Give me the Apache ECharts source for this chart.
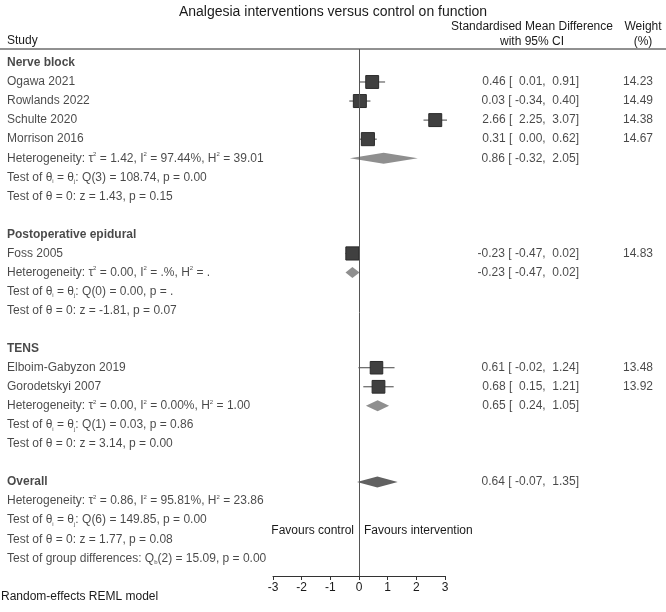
<!DOCTYPE html>
<html><head><meta charset="utf-8">
<script src="https://cdn.jsdelivr.net/npm/echarts@6/dist/echarts.min.js"></script>
<style>html,body{margin:0;padding:0;background:#fff}#c{width:666px;height:612px}</style>
</head><body><div id="c"></div>
<script>
// ---- data ----
const titleText = "Analgesia interventions versus control on function";
const rowLabels = [
  "Nerve block","Ogawa 2021","Rowlands 2022","Schulte 2020","Morrison 2016",
  "Heterogeneity: τ^2 = 1.42, I^2 = 97.44%, H^2 = 39.01",
  "Test of θ_i = θ_j: Q(3) = 108.74, p = 0.00",
  "Test of θ = 0: z = 1.43, p = 0.15",
  "",
  "Postoperative epidural","Foss 2005",
  "Heterogeneity: τ^2 = 0.00, I^2 = .%, H^2 = .",
  "Test of θ_i = θ_j: Q(0) = 0.00, p = .",
  "Test of θ = 0: z = -1.81, p = 0.07",
  "",
  "TENS","Elboim-Gabyzon 2019","Gorodetskyi 2007",
  "Heterogeneity: τ^2 = 0.00, I^2 = 0.00%, H^2 = 1.00",
  "Test of θ_i = θ_j: Q(1) = 0.03, p = 0.86",
  "Test of θ = 0: z = 3.14, p = 0.00",
  "",
  "Overall",
  "Heterogeneity: τ^2 = 0.86, I^2 = 95.81%, H^2 = 23.86",
  "Test of θ_i = θ_j: Q(6) = 149.85, p = 0.00",
  "Test of θ = 0: z = 1.77, p = 0.08",
  "Test of group differences: Q_b(2) = 15.09, p = 0.00"
];
const boldRows = [0, 9, 15, 22];
// studies: row, effect, lower, upper, weight
const studyRows = [1, 2, 3, 4, 10, 16, 17];
const studyES   = [0.46, 0.03, 2.66, 0.31, -0.23, 0.61, 0.68];
const studyLo   = [0.01, -0.34, 2.25, 0.00, -0.47, -0.02, 0.15];
const studyHi   = [0.91, 0.40, 3.07, 0.62, 0.02, 1.24, 1.21];
const studyW    = [14.23, 14.49, 14.38, 14.67, 14.83, 13.48, 13.92];
// pooled diamonds
const poolRows = [5, 11, 18, 22];
const poolES   = [0.86, -0.23, 0.65, 0.64];
const poolLo   = [-0.32, -0.47, 0.24, -0.07];
const poolHi   = [2.05, 0.02, 1.05, 1.35];
const poolIsOverall = [false, false, false, true];
const xTicks = [-3, -2, -1, 0, 1, 2, 3];

// ---- helpers ----
const f2 = v => v.toFixed(2);
const pad = v => (v < 0 ? " " : "  ") + f2(v);
const ciText = (e, l, h) => f2(e) + " [" + pad(l) + "," + pad(h) + "]";
function markup(s) {
  return s.replace(/\^2/g, "{sup|2}").replace(/_([ijb])/g, "{sub|$1}");
}

const Y0 = -0.732, Y1 = 26.932;
const TOP = 49, H = 527;
const FONT = "'Liberation Sans', Arial, sans-serif";
const TXT = "#1a1a1a";
const richBase = {
  sup: {fontSize: 6, verticalAlign: 'top', lineHeight: 14, color: TXT, fontFamily: FONT, padding: [0,0,4,0]},
  sub: {fontSize: 6, verticalAlign: 'bottom', lineHeight: 14, color: TXT, fontFamily: FONT}
};

const leftData = [];
rowLabels.forEach((t, i) => { if (t) leftData.push({value: [7, i], name: t,
  label: boldRows.includes(i) ? {fontWeight: 'bold'} : {}}); });

const ciData = [], wData = [];
studyRows.forEach((r, i) => {
  ciData.push({value: [579, r], name: ciText(studyES[i], studyLo[i], studyHi[i])});
  wData.push({value: [653, r], name: f2(studyW[i])});
});
poolRows.forEach((r, i) => {
  ciData.push({value: [579, r], name: ciText(poolES[i], poolLo[i], poolHi[i])});
});

const chart = echarts.init(document.getElementById('c'), null, {renderer: 'canvas'});
const textLabel = (pos) => ({
  show: true, position: pos, distance: 0, fontSize: 12, fontFamily: FONT, color: TXT,
  lineHeight: 14, rich: richBase,
  formatter: p => markup(p.name)
});

chart.setOption({
  animation: false,
  backgroundColor: '#fff',
  title: {text: titleText, left: 'center', top: 0,
    textStyle: {fontSize: 14, fontWeight: 'normal', fontFamily: FONT, color: TXT}},
  grid: [
    {left: 0, top: TOP, width: 666, height: H},
    {left: 273, top: TOP, width: 172, height: H}
  ],
  xAxis: [
    {gridIndex: 0, type: 'value', min: 0, max: 666, show: false},
    {gridIndex: 1, type: 'value', min: -3, max: 3, interval: 1,
      splitLine: {show: false},
      axisLine: {show: true, onZero: false, lineStyle: {color: '#333', width: 1}},
      axisTick: {show: true, length: 4, lineStyle: {color: '#333'}},
      axisLabel: {fontSize: 12, fontFamily: FONT, color: TXT, margin: 6,
        customValues: xTicks}}
  ],
  yAxis: [
    {gridIndex: 0, type: 'value', min: Y0, max: Y1, inverse: true, show: false},
    {gridIndex: 1, type: 'value', min: Y0, max: Y1, inverse: true, show: false}
  ],
  graphic: [
    {type: 'line', shape: {x1: 0, y1: TOP, x2: 666, y2: TOP}, style: {stroke: '#222', lineWidth: 1}},
    {type: 'text', x: 7, y: 41, style: {text: 'Study', font: "12px " + FONT, fill: TXT, verticalAlign: 'middle'}},
    {type: 'text', x: 532, y: 27, style: {text: 'Standardised Mean Difference', font: "12px " + FONT, fill: TXT, align: 'center', verticalAlign: 'middle'}},
    {type: 'text', x: 532, y: 42, style: {text: 'with 95% CI', font: "12px " + FONT, fill: TXT, align: 'center', verticalAlign: 'middle'}},
    {type: 'text', x: 643, y: 27, style: {text: 'Weight', font: "12px " + FONT, fill: TXT, align: 'center', verticalAlign: 'middle'}},
    {type: 'text', x: 643, y: 42, style: {text: '(%)', font: "12px " + FONT, fill: TXT, align: 'center', verticalAlign: 'middle'}},
    {type: 'text', x: 354, y: 531, style: {text: 'Favours control', font: "12px " + FONT, fill: TXT, align: 'right', verticalAlign: 'middle'}},
    {type: 'text', x: 364, y: 531, style: {text: 'Favours intervention', font: "12px " + FONT, fill: TXT, align: 'left', verticalAlign: 'middle'}},
    {type: 'text', x: 1, y: 597, style: {text: 'Random-effects REML model', font: "12px " + FONT, fill: TXT, verticalAlign: 'middle'}}
  ],
  series: [
    {type: 'scatter', xAxisIndex: 0, yAxisIndex: 0, symbolSize: 0, itemStyle: {color: 'transparent'},
      label: textLabel('right'), data: leftData, silent: true},
    {type: 'scatter', xAxisIndex: 0, yAxisIndex: 0, symbolSize: 0, itemStyle: {color: 'transparent'},
      label: textLabel('left'), data: ciData, silent: true},
    {type: 'scatter', xAxisIndex: 0, yAxisIndex: 0, symbolSize: 0, itemStyle: {color: 'transparent'},
      label: textLabel('left'), data: wData, silent: true},
    {type: 'custom', xAxisIndex: 1, yAxisIndex: 1, clip: false,
      data: studyRows.map((r, i) => [studyES[i], studyLo[i], studyHi[i], r, studyW[i]]),
      encode: {x: [0, 1, 2], y: 3},
      renderItem: (params, api) => {
        const c = api.coord([api.value(0), api.value(3)]);
        const l = api.coord([api.value(1), api.value(3)]);
        const h = api.coord([api.value(2), api.value(3)]);
        const s = 13 * Math.sqrt(api.value(4) / 14.5);
        return {type: 'group', children: [
          {type: 'line', shape: {x1: l[0], y1: l[1], x2: h[0], y2: h[1]}, style: {stroke: '#444', lineWidth: 1}},
          {type: 'rect', shape: {x: c[0] - s / 2, y: c[1] - s / 2, width: s, height: s},
            style: {fill: '#404040', stroke: '#2a2a2a', lineWidth: 1}}
        ]};
      },
      markLine: {silent: true, symbol: 'none', label: {show: false},
        lineStyle: {color: '#555', width: 1, type: 'solid'}, data: [{xAxis: 0}]}
    },
    {type: 'custom', xAxisIndex: 1, yAxisIndex: 1, clip: false,
      data: poolRows.map((r, i) => [poolES[i], poolLo[i], poolHi[i], r, poolIsOverall[i] ? 1 : 0]),
      encode: {x: [0, 1, 2], y: 3},
      renderItem: (params, api) => {
        const c = api.coord([api.value(0), api.value(3)]);
        const l = api.coord([api.value(1), api.value(3)]);
        const h = api.coord([api.value(2), api.value(3)]);
        const hh = 5.5;
        const overall = api.value(4) === 1;
        return {type: 'polygon', shape: {points: [[l[0], c[1]], [c[0], c[1] - hh], [h[0], c[1]], [c[0], c[1] + hh]]},
          style: {fill: overall ? '#616161' : '#8f8f8f'}};
      }
    }
  ]
});
</script></body></html>
